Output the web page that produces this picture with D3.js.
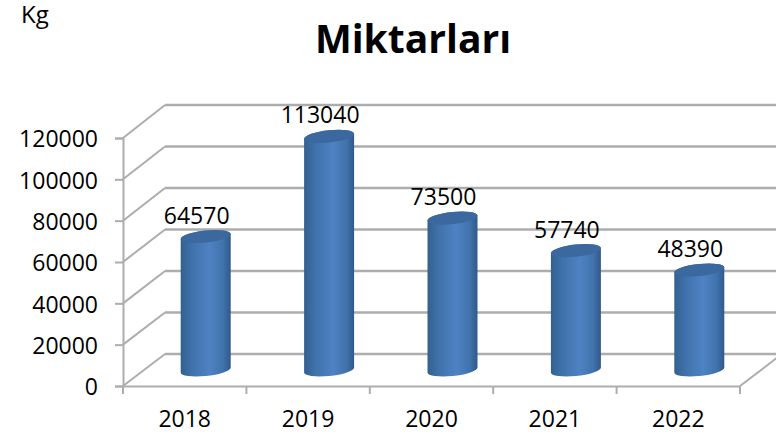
<!DOCTYPE html>
<html>
<head>
<meta charset="utf-8">
<script src="https://cdn.jsdelivr.net/npm/d3@7"></script>
<style>
html, body { margin: 0; padding: 0; background: #fff; }
text { font-family: "Open Sans", sans-serif; fill: #000; }
</style>
</head>
<body>
<div id="chart"></div>
<script>
const years = ["2018", "2019", "2020", "2021", "2022"];
const amounts = [64570, 113040, 73500, 57740, 48390];
const yTicks = [0, 20000, 40000, 60000, 80000, 100000, 120000];

const width = 776, height = 440;

const svg = d3.select("#chart").append("svg")
    .attr("width", width)
    .attr("height", height)
    .style("display", "block");

// the chart is fake 3D so there is a scale for the front edge, the back wall and the bars in between
const depthX = 42;
const yFront = d3.scaleLinear().domain([0, 120000]).range([386, 138]);
const yBack = d3.scaleLinear().domain([0, 120000]).range([354, 105]);
const yBar = d3.scaleLinear().domain([0, 120000]).range([370, 122]);
const x = d3.scaleBand().domain(years).range([123, 740]);

// cylinder shading, dark on the edges and lighter just right of the middle
const defs = svg.append("defs");
const grad = defs.append("linearGradient").attr("id", "cyl");
grad.append("stop").attr("offset", "0%").attr("stop-color", "#33608f");
grad.append("stop").attr("offset", "22%").attr("stop-color", "#3f71aa");
grad.append("stop").attr("offset", "58%").attr("stop-color", "#4f82c4");
grad.append("stop").attr("offset", "85%").attr("stop-color", "#4072ab");
grad.append("stop").attr("offset", "100%").attr("stop-color", "#30598a");

const gridColor = "#adadad";
const xLeft = x.range()[0], xRight = x.range()[1];

// back wall lines
svg.selectAll("line.back")
    .data(yTicks)
    .enter().append("line")
    .attr("class", "back")
    .attr("x1", xLeft + depthX)
    .attr("x2", xRight + depthX)
    .attr("y1", d => yBack(d))
    .attr("y2", d => yBack(d))
    .attr("stroke", gridColor)
    .attr("stroke-width", 2.5);

// side wall lines
svg.selectAll("line.side")
    .data(yTicks)
    .enter().append("line")
    .attr("class", "side")
    .attr("x1", xLeft)
    .attr("x2", xLeft + depthX)
    .attr("y1", d => yFront(d))
    .attr("y2", d => yBack(d))
    .attr("stroke", gridColor)
    .attr("stroke-width", 2);

// floor, right edge
svg.append("line")
    .attr("x1", xRight).attr("x2", xRight + depthX)
    .attr("y1", yFront(0)).attr("y2", yBack(0))
    .attr("stroke", gridColor).attr("stroke-width", 2);

// left axis
const yAxis = svg.append("g")
    .attr("transform", "translate(" + xLeft + ",0)")
    .call(d3.axisLeft(yFront).tickValues(yTicks).tickSize(8).tickPadding(17).tickFormat(d3.format("d")));
yAxis.select(".domain").attr("stroke", gridColor).attr("stroke-width", 2);
yAxis.selectAll(".tick line").attr("stroke", gridColor).attr("stroke-width", 2);
yAxis.selectAll("text").style("font-size", "23px").attr("fill", "#000").attr("dy", ".39em");

// bottom axis, ticks on the band edges and labels in the middle
const xAxis = svg.append("g")
    .attr("transform", "translate(0," + yFront(0) + ")")
    .call(d3.axisBottom(x).tickSize(0).tickPadding(25));
xAxis.select(".domain").attr("stroke", gridColor).attr("stroke-width", 2);
xAxis.selectAll("text").style("font-size", "23px").attr("fill", "#000");
svg.selectAll("line.xtick")
    .data(years.concat("end"))
    .enter().append("line")
    .attr("class", "xtick")
    .attr("x1", (d, i) => xLeft + i * x.step())
    .attr("x2", (d, i) => xLeft + i * x.step())
    .attr("y1", yFront(0))
    .attr("y2", yFront(0) + 8)
    .attr("stroke", gridColor)
    .attr("stroke-width", 2);

// cylinders
const barW = 50, capRy = 6, tilt = 2.5;

function cylinder(year, value) {
    const left = x(year) + x.bandwidth() / 2 + depthX / 2 - barW / 2;
    const right = left + barW;
    const top = yBar(value);
    const bottom = yBar(0);
    return "M" + left + "," + (top + tilt) +
        "L" + left + "," + (bottom + tilt) +
        "A" + (barW / 2) + "," + capRy + " -6 0 0 " + right + "," + (bottom - tilt) +
        "L" + right + "," + (top - tilt) +
        "A" + (barW / 2) + "," + capRy + " -6 0 0 " + left + "," + (top + tilt) + "Z";
}

function cap(year, value) {
    const left = x(year) + x.bandwidth() / 2 + depthX / 2 - barW / 2;
    const right = left + barW;
    const top = yBar(value);
    return "M" + left + "," + (top + tilt) +
        "A" + (barW / 2) + "," + capRy + " -6 0 0 " + right + "," + (top - tilt) +
        "A" + (barW / 2) + "," + capRy + " -6 0 0 " + left + "," + (top + tilt) + "Z";
}

svg.selectAll("path.bar")
    .data(amounts)
    .enter().append("path")
    .attr("class", "bar")
    .attr("d", (d, i) => cylinder(years[i], d))
    .attr("fill", "url(#cyl)");

svg.selectAll("path.cap")
    .data(amounts)
    .enter().append("path")
    .attr("class", "cap")
    .attr("d", (d, i) => cap(years[i], d))
    .attr("fill", "#3a689f");

// value labels sit a bit left of the bar
svg.selectAll("text.value")
    .data(amounts)
    .enter().append("text")
    .attr("class", "value")
    .attr("x", (d, i) => x(years[i]) + x.bandwidth() / 2 + depthX / 2 - 9)
    .attr("y", d => yBar(d) - 13)
    .attr("text-anchor", "middle")
    .style("font-size", "23px")
    .text(d => d);

svg.append("text")
    .attr("x", 21)
    .attr("y", 23)
    .style("font-size", "24px")
    .text("Kg");

svg.append("text")
    .attr("x", 413)
    .attr("y", 53)
    .attr("text-anchor", "middle")
    .style("font-size", "39px")
    .style("font-weight", "700")
    .text("Miktarları");
</script>
</body>
</html>
